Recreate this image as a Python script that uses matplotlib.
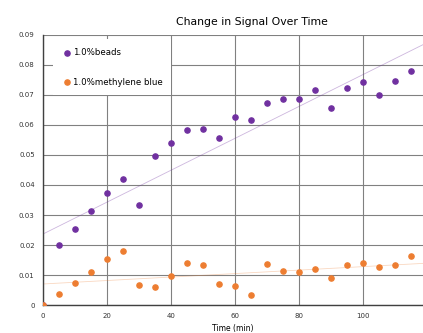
import matplotlib.pyplot as plt
import numpy as np

time_min = [0, 5, 10, 15, 20, 25, 30, 35, 40, 45, 50, 55, 60,
            65, 70, 75, 80, 85, 90, 95, 100, 105, 110, 115]
beads = [0.0, 0.0199, 0.0254, 0.0314, 0.0372, 0.0419, 0.0334, 0.0497, 0.054,
         0.0583, 0.0588, 0.0558, 0.0628, 0.0616, 0.0672, 0.0686, 0.0686,
         0.0717, 0.0658, 0.0722, 0.0743, 0.0701, 0.0746, 0.078]
methylene = [0.0, 0.0038, 0.0072, 0.0111, 0.0152, 0.018, 0.0066, 0.006, 0.0097,
             0.0139, 0.0134, 0.0069, 0.0064, 0.0034, 0.0137, 0.0113, 0.0111,
             0.012, 0.009, 0.0132, 0.0139, 0.0127, 0.0132, 0.0164]
yticks = [0, 0.01, 0.02, 0.03, 0.04, 0.05, 0.06, 0.07, 0.08, 0.09]
ytick_labels = ['0', '0.01', '0.02', '0.03', '0.04', '0.05', '0.06', '0.07', '0.08', '0.09']
xticks = [0, 20, 40, 60, 80, 100]

purple = '#7030a0'
orange = '#ed7d31'

fig = plt.figure(figsize=(4.23, 3.33), dpi=100)
ax = fig.add_axes([0.1017, 0.084, 0.8983, 0.811])

t = np.array(time_min)
xfit = np.array([0, 118.75])
for series, color, alpha in [(beads, purple, 0.35), (methylene, orange, 0.3)]:
    slope, icpt = np.polyfit(t, series, 1)
    ax.plot(xfit, slope * xfit + icpt, color=color, lw=0.6, alpha=alpha, zorder=2)

ax.scatter(time_min, beads, s=14, color=purple, label='1.0%beads', zorder=3)
ax.scatter(time_min, methylene, s=14, color=orange, label='1.0%methylene blue', zorder=3)

ax.set_xlim(0, 118.75)
ax.set_ylim(0, 0.09)
ax.set_xticks(xticks)
ax.set_yticks(yticks)
ax.set_yticklabels(ytick_labels)
ax.tick_params(labelsize=5, colors='#333333', length=0, pad=6)
ax.grid(True, color='#808080', lw=0.8)
ax.set_axisbelow(True)
for side in ['top', 'right']:
    ax.spines[side].set_visible(False)
for side in ['left', 'bottom']:
    ax.spines[side].set_color('#404040')
    ax.spines[side].set_linewidth(1.0)

# title is centred on the full (uncropped) chart, not on the visible axes
fig.text(0.596, 0.934, 'Change in Signal Over Time', fontsize=7.8,
         ha='center', va='center')
ax.set_xlabel('Time (min)', fontsize=5.5, labelpad=3)

leg = ax.legend(loc='upper left', bbox_to_anchor=(0.015, 1.0), fontsize=6.2,
                frameon=True, facecolor='white', edgecolor='none', framealpha=1,
                handletextpad=0.0, labelspacing=2.4, borderpad=1.0,
                handlelength=1.3, fancybox=False, markerscale=1.0)
leg.get_frame().set_linewidth(0)

fig.savefig('out.png', dpi=100)
